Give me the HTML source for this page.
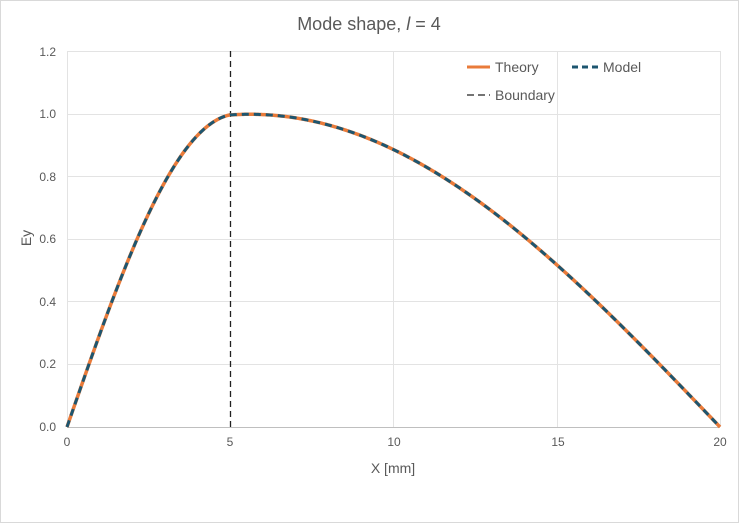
<!DOCTYPE html>
<html><head><style>
body{margin:0;background:#fff}
svg{display:block;font-family:"Liberation Sans",sans-serif}
</style></head><body>
<svg width="739" height="523" viewBox="0 0 739 523">
<rect x="0.5" y="0.5" width="738" height="522" fill="#fff" stroke="#d9d9d9"/>
<text x="369" y="30" text-anchor="middle" font-size="18" fill="#595959">Mode shape, <tspan font-style="italic">l</tspan> = 4</text>
<g stroke="#e3e3e3" stroke-width="1">
<line x1="67" y1="51.5" x2="720" y2="51.5"/>
<line x1="67" y1="114.5" x2="720" y2="114.5"/>
<line x1="67" y1="176.5" x2="720" y2="176.5"/>
<line x1="67" y1="239.5" x2="720" y2="239.5"/>
<line x1="67" y1="301.5" x2="720" y2="301.5"/>
<line x1="67" y1="364.5" x2="720" y2="364.5"/>
<line x1="67.5" y1="51" x2="67.5" y2="427"/>
<line x1="393.5" y1="51" x2="393.5" y2="427"/>
<line x1="557.5" y1="51" x2="557.5" y2="427"/>
<line x1="720.5" y1="51" x2="720.5" y2="427"/>
</g>
<line x1="67" y1="427.5" x2="720" y2="427.5" stroke="#bfbfbf"/>
<g font-size="12" fill="#595959" text-anchor="end">
<text x="56" y="56">1.2</text><text x="56" y="118">1.0</text><text x="56" y="181">0.8</text>
<text x="56" y="243">0.6</text><text x="56" y="306">0.4</text><text x="56" y="368">0.2</text><text x="56" y="431">0.0</text>
</g>
<g font-size="12" fill="#595959" text-anchor="middle">
<text x="67" y="446">0</text><text x="230" y="446">5</text><text x="394" y="446">10</text><text x="558" y="446">15</text><text x="720" y="446">20</text>
</g>
<text x="393" y="473" text-anchor="middle" font-size="14" fill="#595959">X [mm]</text>
<text transform="translate(31,238) rotate(-90)" text-anchor="middle" font-size="14" fill="#595959">Ey</text>
<line x1="230.5" y1="51" x2="230.5" y2="427" stroke="#222" stroke-width="1.3" stroke-dasharray="6,4"/>
<g id="curves"></g>
<line x1="467" y1="67" x2="490" y2="67" stroke="#e97b3a" stroke-width="3"/>
<text x="495" y="72" font-size="14" fill="#595959">Theory</text>
<line x1="572" y1="67" x2="600" y2="67" stroke="#1d5670" stroke-width="3" stroke-dasharray="6,4"/>
<text x="603" y="72" font-size="14" fill="#595959">Model</text>
<line x1="467" y1="95" x2="490" y2="95" stroke="#222" stroke-width="1.3" stroke-dasharray="7,4"/>
<text x="495" y="100" font-size="14" fill="#595959">Boundary</text>
</svg>
<script>
var pts=[];
for(var i=0;i<=400;i++){var x=i*0.05,v;
if(x<=5)v=Math.sin(0.3*x);else v=0.997*Math.cos(Math.PI/2*(x-5.6)/14.4)/Math.cos(Math.PI/2*(5-5.6)/14.4);
if(x>5&&v>1)v=1;
pts.push((67+x*32.65).toFixed(2)+","+(427-v*313).toFixed(2));}
var d="M"+pts.join(" L");
document.getElementById("curves").innerHTML=
'<path d="'+d+'" fill="none" stroke="#e97b3a" stroke-width="3.5"/>'+
'<path d="'+d+'" fill="none" stroke="#1d5670" stroke-width="3" stroke-dasharray="7,5"/>';
</script>
</body></html>
